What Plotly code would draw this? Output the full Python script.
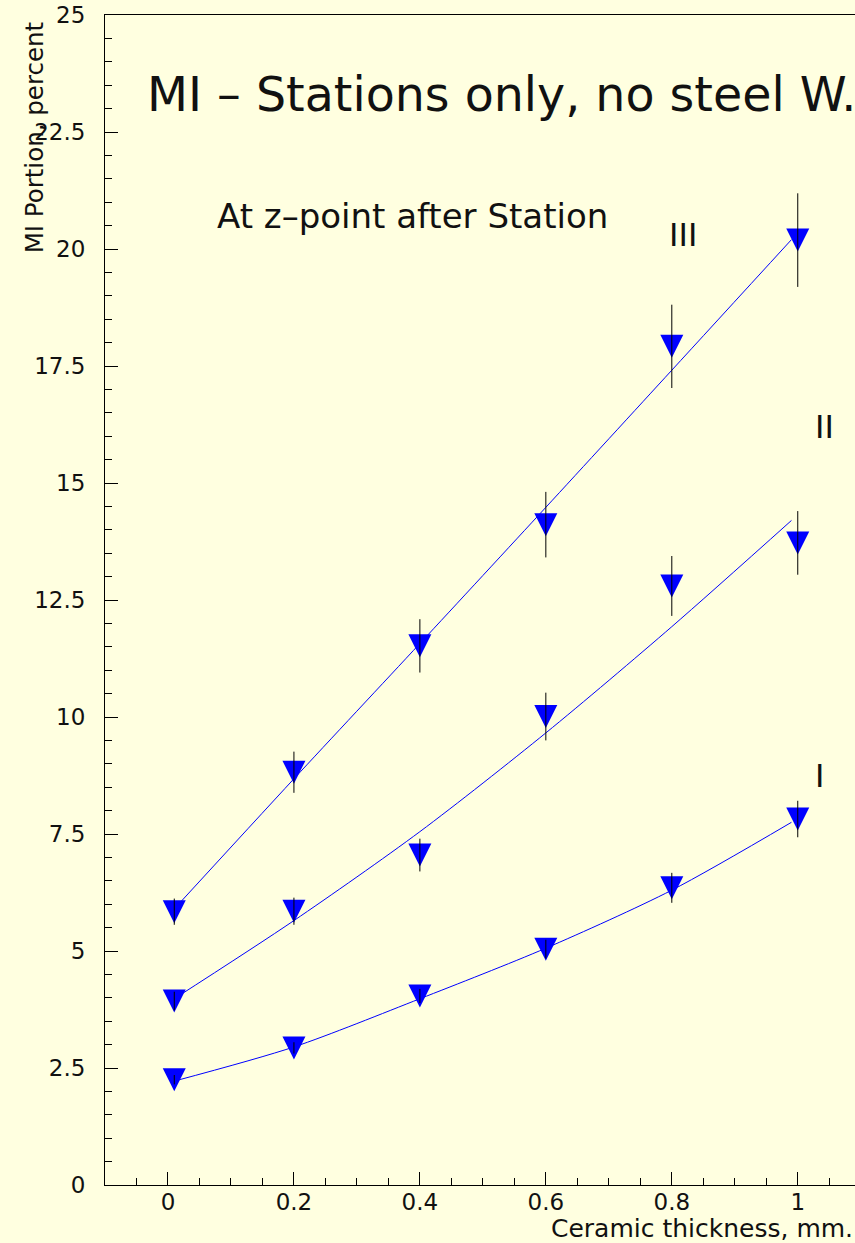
import plotly.graph_objects as go

# ---------------- data ----------------
thickness = [0.01, 0.2, 0.4, 0.6, 0.8, 1.0]

st3_y = [5.84, 8.82, 11.52, 14.11, 17.92, 20.19]
st3_err = [0.28, 0.44, 0.57, 0.70, 0.89, 1.00]
st2_y = [3.93, 5.85, 7.05, 10.01, 12.80, 13.72]
st2_err = [0.20, 0.29, 0.35, 0.51, 0.64, 0.68]
st1_y = [2.25, 2.93, 4.04, 5.04, 6.35, 7.82]
st1_err = [0.10, 0.12, 0.15, 0.20, 0.32, 0.39]

fit_x = [0.01, 0.2, 0.4, 0.6, 0.8, 0.99]
st3_fit = [5.90, 8.68, 11.57, 14.48, 17.41, 20.20]
st2_fit = [3.98, 5.65, 7.55, 9.66, 11.93, 14.20]
st1_fit = [2.22, 2.95, 3.98, 5.06, 6.30, 7.75]

x_ticks = [0, 0.2, 0.4, 0.6, 0.8, 1]
x_tick_text = ["0", "0.2", "0.4", "0.6", "0.8", "1"]
y_ticks = [0, 2.5, 5, 7.5, 10, 12.5, 15, 17.5, 20, 22.5, 25]
y_tick_text = ["0", "2.5", "5", "7.5", "10", "12.5", "15", "17.5", "20", "22.5", "25"]

BG = "#FFFFE0"
BLUE = "#0000FF"
FONT = "DejaVu Sans"
TXT = "#111111"

fig = go.Figure()

series = [(st3_y, st3_err, st3_fit), (st2_y, st2_err, st2_fit), (st1_y, st1_err, st1_fit)]

for yv, ev, fv in series:
    fig.add_trace(go.Scatter(x=fit_x, y=fv, mode="lines",
                             line=dict(color=BLUE, width=1, shape="spline", smoothing=0.8),
                             hoverinfo="skip", showlegend=False))
for yv, ev, fv in series:
    fig.add_trace(go.Scatter(x=thickness, y=yv, mode="markers",
                             marker=dict(symbol="arrow-down", size=23, standoff=11.5,
                                         color=BLUE, line=dict(width=0)),
                             showlegend=False))
for yv, ev, fv in series:
    fig.add_trace(go.Scatter(x=thickness, y=yv, mode="markers",
                             marker=dict(size=1, opacity=0),
                             error_y=dict(type="data", array=ev, visible=True,
                                          color="black", thickness=1, width=0),
                             hoverinfo="skip", showlegend=False))

axis_common = dict(showgrid=False, zeroline=False, showline=True, linecolor="black",
                   linewidth=1, ticks="inside", ticklen=13, tickwidth=1, tickcolor="black",
                   tickfont=dict(family=FONT, size=23, color=TXT))

fig.update_xaxes(range=[-0.1, 1.0909], tickvals=x_ticks, ticktext=x_tick_text,
                 mirror=True, ticklabelstandoff=-4,
                 minor=dict(dtick=0.05, tick0=0, ticks="inside", ticklen=7,
                            tickcolor="black", tickwidth=1),
                 **axis_common)
fig.update_yaxes(range=[0, 25], tickvals=y_ticks, ticktext=y_tick_text,
                 mirror=False, ticklabelstandoff=14,
                 minor=dict(dtick=0.5, tick0=0, ticks="inside", ticklen=7,
                            tickcolor="black", tickwidth=1),
                 **axis_common)

annotations = [
    dict(text="MI – Stations only, no steel W.", x=-0.036, y=23.3, xref="x", yref="y",
         xanchor="left", yanchor="middle", showarrow=False,
         font=dict(family=FONT, size=47.5, color=TXT)),
    dict(text="At z–point after Station", x=0.075, y=20.7, xref="x", yref="y",
         xanchor="left", yanchor="middle", showarrow=False,
         font=dict(family=FONT, size=34, color=TXT)),
    dict(text="III", x=0.818, y=20.3, xref="x", yref="y", xanchor="center", yanchor="middle",
         showarrow=False, font=dict(family=FONT, size=32, color=TXT)),
    dict(text="II", x=1.042, y=16.2, xref="x", yref="y", xanchor="center", yanchor="middle",
         showarrow=False, font=dict(family=FONT, size=32, color=TXT)),
    dict(text="I", x=1.035, y=8.75, xref="x", yref="y", xanchor="center", yanchor="middle",
         showarrow=False, font=dict(family=FONT, size=32, color=TXT)),
    dict(text="MI Portion, percent", x=-0.094, y=0.895, xref="paper", yref="paper",
         xanchor="center", yanchor="middle", textangle=-90, showarrow=False,
         font=dict(family=FONT, size=24.5, color=TXT)),
    dict(text="Ceramic thickness, mm.", x=1.0, y=-0.037, xref="paper", yref="paper",
         xanchor="right", yanchor="middle", showarrow=False,
         font=dict(family=FONT, size=25, color=TXT)),
]

fig.update_layout(width=855, height=1243, autosize=False,
                  margin=dict(l=105, r=0, t=15, b=58, pad=0),
                  paper_bgcolor=BG, plot_bgcolor=BG,
                  annotations=annotations, showlegend=False)

fig.write_html("out.html")
